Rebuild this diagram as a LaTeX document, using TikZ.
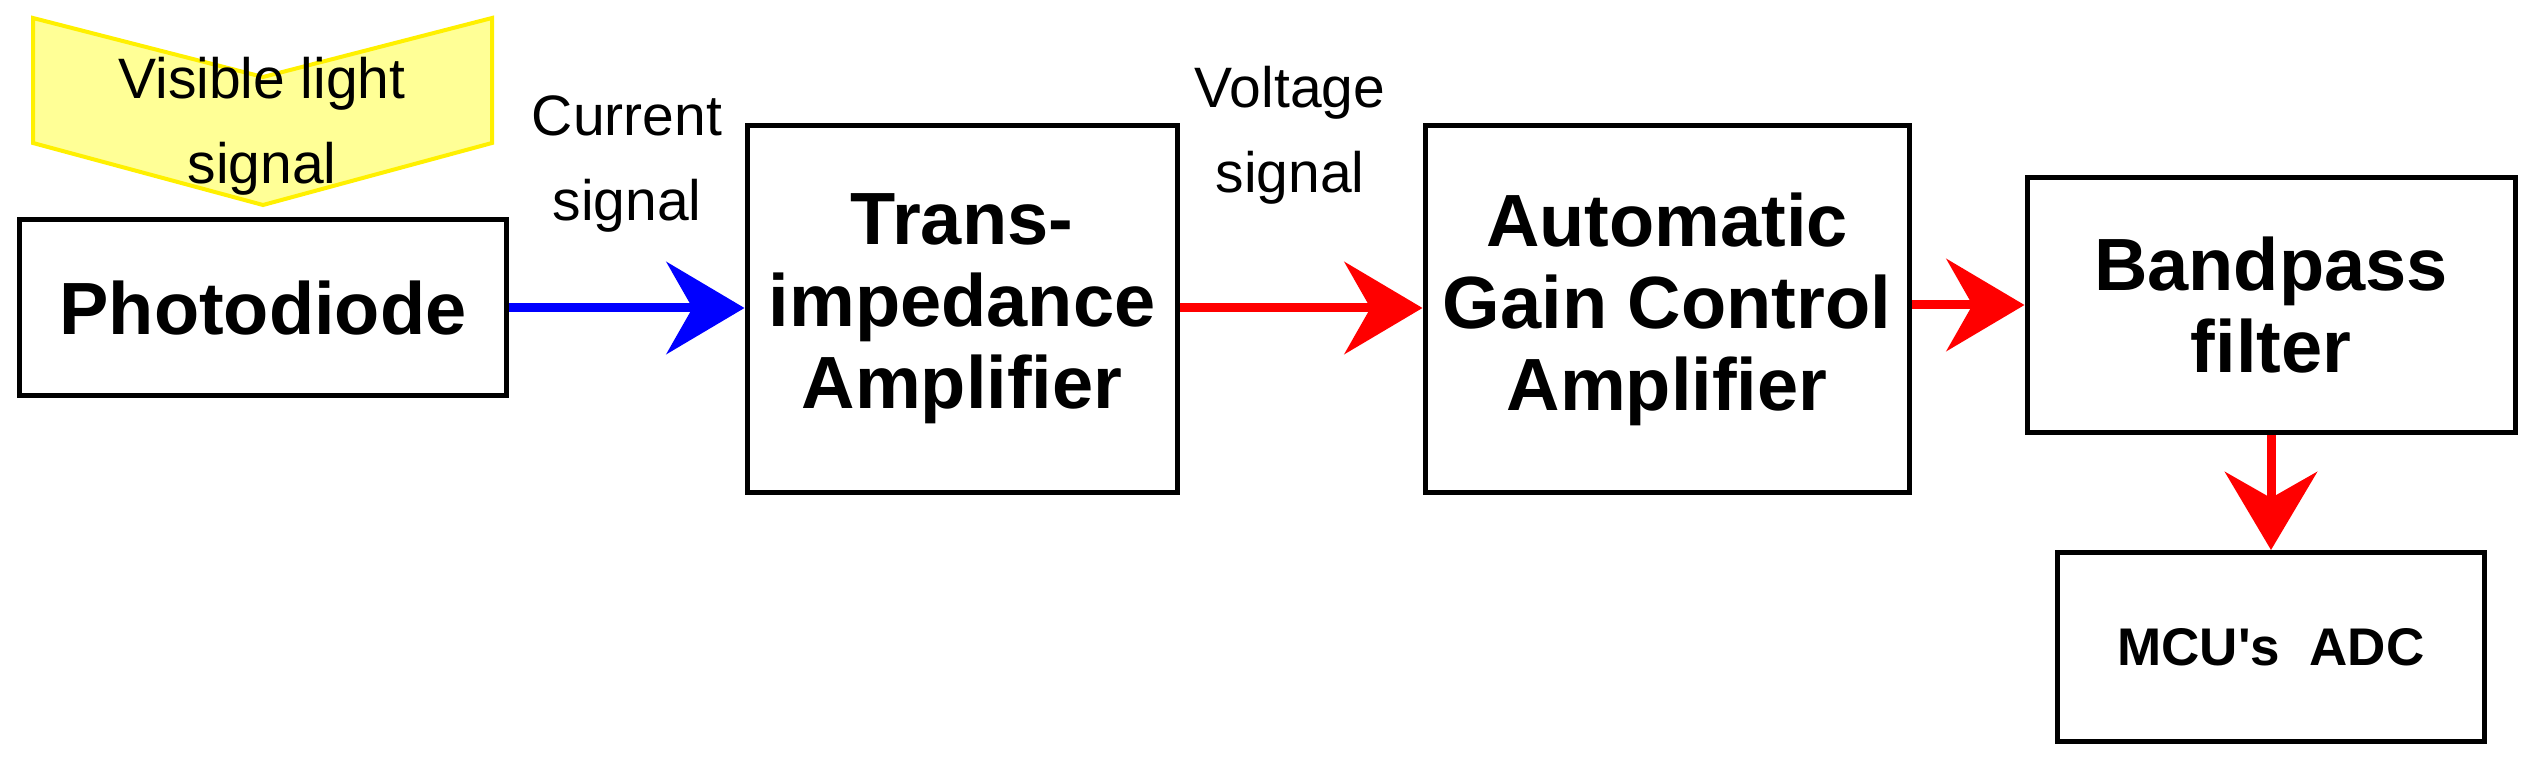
\documentclass[tikz,border=0pt]{standalone}
\usepackage{fontspec}
\setmainfont{Liberation Sans}
\usetikzlibrary{arrows.meta}
\begin{document}
\begin{tikzpicture}[x=1pt,y=-1pt,
 box/.style={draw=black,line width=5pt,inner sep=0pt},
 bt/.style={font=\fontsize{74}{82}\selectfont\bfseries,align=center},
 lt/.style={font=\fontsize{57}{85}\selectfont,align=center},
 arr/.style={line width=9pt,-{Stealth[length=78pt,width=92pt,inset=26pt]}}]
\useasboundingbox (0,0) rectangle (2528,775);
\definecolor{ly}{RGB}{255,255,150}
\definecolor{yb}{RGB}{255,240,0}
\draw[fill=ly,draw=yb,line width=4pt] (33,18) -- (263,77) -- (492,18) -- (492,143) -- (263,205) -- (33,143) -- cycle;
\node[lt] (vis) at (262,126) {Visible light\\signal};
\node[box,minimum width=487pt,minimum height=176pt] (pd) at (263,308) {};
\node[bt] at (pd) {Photodiode};
\node[box,minimum width=430pt,minimum height=366pt] (ti) at (962,309) {};
\node[bt] at (ti) {Trans-\\impedance\\Amplifier};
\node[box,minimum width=484pt,minimum height=366pt] (agc) at (1667,309) {};
\node[bt] at (agc) {Automatic\\Gain Control\\Amplifier};
\node[box,minimum width=488pt,minimum height=255pt] (bp) at (2271,305) {};
\node[bt] at (bp) {Bandpass\\filter};
\node[box,minimum width=427pt,minimum height=189pt] (mcu) at (2271,647) {};
\node[font=\fontsize{53}{60}\selectfont\bfseries] at (mcu) {MCU\textquotesingle s~~ADC};
\node[lt] (cs) at (627,164) {Current\\signal};
\node[lt] (vs) at (1290,135) {Voltage\\signal};
\draw[arr,blue] (pd.east|-0,308) -- (ti.west|-0,308);
\draw[arr,red] (ti.east|-0,308) -- (agc.west|-0,308);
\draw[arr,red] (agc.east|-0,305) -- (bp.west|-0,305);
\draw[arr,red] (bp.south) -- (mcu.north);
\end{tikzpicture}
\end{document}
